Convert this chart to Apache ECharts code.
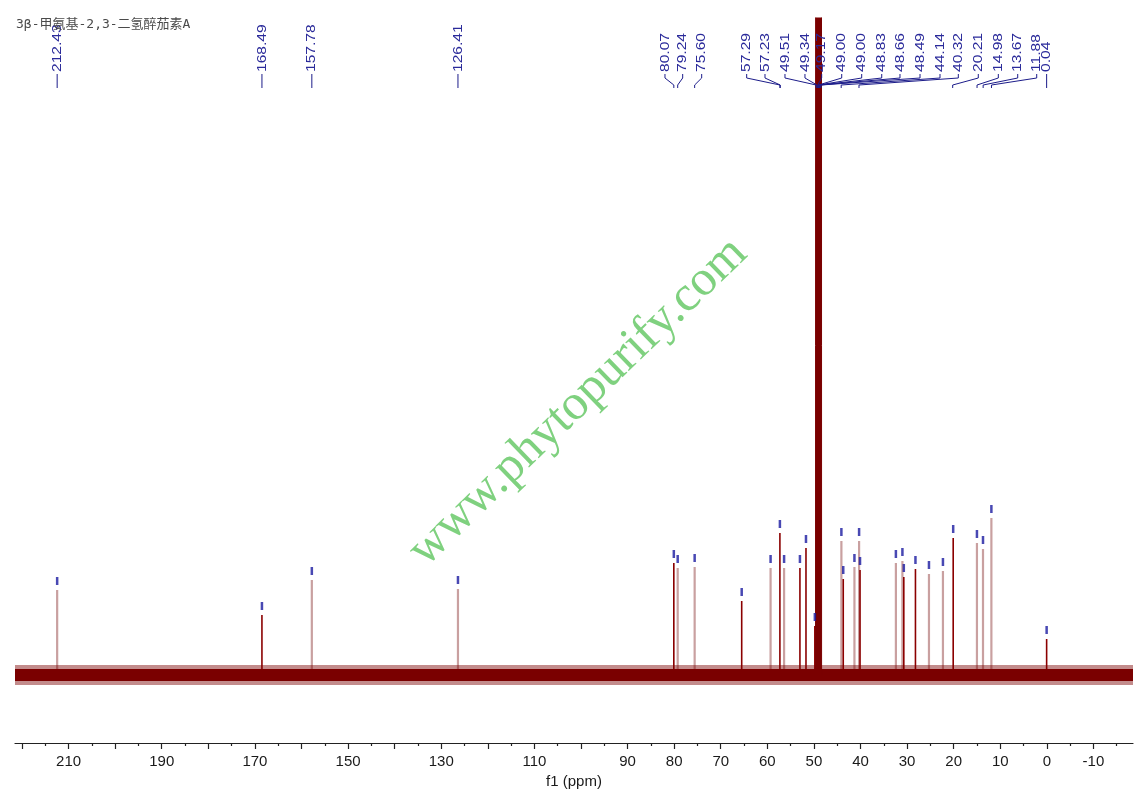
<!DOCTYPE html>
<html><head><meta charset="utf-8">
<script src="https://cdn.jsdelivr.net/npm/echarts@6/dist/echarts.min.js"></script>
<style>html,body{margin:0;padding:0;background:#fff}#c{width:1142px;height:802px}</style>
</head><body><div id="c"></div>
<script>
// ---- data ----
const titleText = '3β-甲氨基-2,3-二氢醉茄素A';
const watermarkText = 'www.phytopurify.com';
const axisName = 'f1 (ppm)';
const xMin = -18.5, xMax = 221.5;
const yMin = -68, yMax = 657;
const majorTicks = [220,210,200,190,180,170,160,150,140,130,120,110,100,90,80,70,60,50,40,30,20,10,0,-10];
const minorTicks = [215,205,195,185,175,165,155,145,135,125,115,105,95,85,75,65,55,45,35,25,15,5,-5,-15];
const tickLabels = [210,190,170,150,130,110,90,80,70,60,50,40,30,20,10,0,-10];
const peakPpm    = [212.45,168.49,157.78,126.41,80.07,79.24,75.60,65.5,59.3,57.3,56.4,53.0,51.7,49.8,44.1,43.7,41.3,40.3,40.1,32.4,31.0,30.7,28.2,25.3,22.3,20.1,15.0,13.7,11.9,0.04];
const peakHeight = [85,60,95,86,112,107,108,74,107,142,107,107,127,49,134,96,108,134,105,112,114,98,106,101,104,137,132,126,157,36];
const solventPpm = [49.65, 49.6, 48.4, 48.35];
const solventHeight = [0, 2000, 2000, 0];
const labelTexts = ['212.43','168.49','157.78','126.41','80.07','79.24','75.60','57.29','57.23','49.51','49.34','49.17','49.00','49.00','48.83','48.66','48.49','44.14','40.32','20.21','14.98','13.67','11.88','0.04'];
const labelValues = [212.45,168.49,157.78,126.41,80.07,79.24,75.60,57.29,57.23,49.51,49.34,49.17,49.00,49.00,48.83,48.66,48.49,44.14,40.32,20.21,14.98,13.67,11.88,0.04];
const labelSlots  = [212.45,168.49,157.78,126.41,81.97,78.17,74.09,64.43,60.50,56.21,51.92,48.33,44.03,39.74,35.44,31.52,27.22,22.93,19.0,14.71,10.41,6.25,2.17,0.04];

// ---- style choices ----
const lightPeakIdx = new Set([0,2,3,5,6,8,10,14,16,17,19,20,23,24,26,27,28]);

const darkData = [], lightData = [], markerData = [];
peakPpm.forEach((p, i) => {
  const seg = [[p, 0], [p, peakHeight[i]], ['-', '-']];
  if (lightPeakIdx.has(i)) lightData.push(...seg);
  else darkData.push(...seg);
  markerData.push([p, peakHeight[i] + 9]);
});

const chart = echarts.init(document.getElementById('c'));
const baseX = {
  type: 'value', inverse: true, min: xMin, max: xMax, position: 'bottom',
  splitLine: { show: false }
};
chart.setOption({
  animation: false,
  backgroundColor: '#fff',
  grid: { left: 15, right: 9, top: 18, bottom: 59 },
  xAxis: [
    Object.assign({}, baseX, {
      axisLine: { show: true, onZero: false, lineStyle: { color: '#222', width: 1.2 } },
      axisTick: { show: true, length: 6, customValues: majorTicks, lineStyle: { color: '#222', width: 1.2 } },
      axisLabel: { show: true, customValues: tickLabels, margin: 11, fontSize: 15,
        fontFamily: '"Liberation Sans", Arial, sans-serif', color: '#1a1a1a' },
      name: axisName, nameLocation: 'middle', nameGap: 27,
      nameTextStyle: { fontSize: 15, fontFamily: '"Liberation Sans", Arial, sans-serif', color: '#1a1a1a' }
    }),
    Object.assign({}, baseX, {
      axisLine: { show: false, onZero: false },
      axisTick: { show: true, length: 3, customValues: minorTicks, lineStyle: { color: '#222', width: 1.2 } },
      axisLabel: { show: false }
    })
  ],
  yAxis: { type: 'value', min: yMin, max: yMax, show: false, splitLine: { show: false } },
  series: [
    { type: 'line', name: 'light', data: lightData, symbol: 'none', connectNulls: false,
      lineStyle: { color: '#c9a0a0', width: 2.2 }, z: 1 },
    { type: 'line', name: 'dark', data: darkData, symbol: 'none', connectNulls: false,
      lineStyle: { color: '#8b0000', width: 1.6 }, z: 2 },
    { type: 'line', name: 'noise-halo', data: [[xMax, 0], [xMin, 0]], symbol: 'none',
      lineStyle: { color: '#7a0000', width: 20, opacity: 0.45 }, silent: true, z: 3 },
    { type: 'line', name: 'noise', data: [[xMax, 0], [xMin, 0]], symbol: 'none',
      lineStyle: { color: '#7a0000', width: 12 }, silent: true, z: 4 },
    { type: 'line', name: 'solvent', data: solventPpm.map((p, i) => [p, solventHeight[i]]), symbol: 'none',
      lineStyle: { color: '#7a0000', width: 1 }, areaStyle: { color: '#7a0000', opacity: 1 }, z: 5 },
    { type: 'scatter', name: 'marks', data: markerData, symbol: 'rect', symbolSize: [2.5, 8],
      itemStyle: { color: '#1a1aa0' }, z: 6 }
  ]
});

// ---- annotations ----
const px = v => chart.convertToPixel({ xAxisIndex: 0 }, v);
const g = [];
const textBottom = 72;
labelTexts.forEach((t, i) => {
  const sx = px(labelSlots[i]);
  const tx = px(labelValues[i]);
  g.push({
    type: 'polyline', z: 100, silent: true,
    shape: { points: [[sx, textBottom + 2], [sx, 78], [tx, 85], [tx, 88]] },
    style: { stroke: '#1c1c8a', lineWidth: 1, fill: null }
  });
  g.push({
    type: 'text', z: 101, silent: true, x: sx, y: textBottom, rotation: Math.PI / 2, scaleX: 1.2,
    style: { text: t, font: '13px "Liberation Sans", Arial, sans-serif', fill: '#2a2a9a',
      align: 'left', verticalAlign: 'middle' }
  });
});
g.push({
  type: 'text', z: 102, silent: true, x: 16, y: 25,
  style: { text: titleText, font: '13px "DejaVu Sans Mono", "Noto Sans CJK SC", monospace', fill: '#4a4a4a',
    align: 'left', verticalAlign: 'middle' }
});
g.push({
  type: 'text', z: 90, silent: true, x: 578, y: 402, rotation: 44 * Math.PI / 180,
  style: { text: watermarkText, font: '50px "Liberation Serif", "Times New Roman", serif', fill: '#7fd17f',
    align: 'center', verticalAlign: 'middle' }
});
chart.setOption({ graphic: g });
</script>
</body></html>
